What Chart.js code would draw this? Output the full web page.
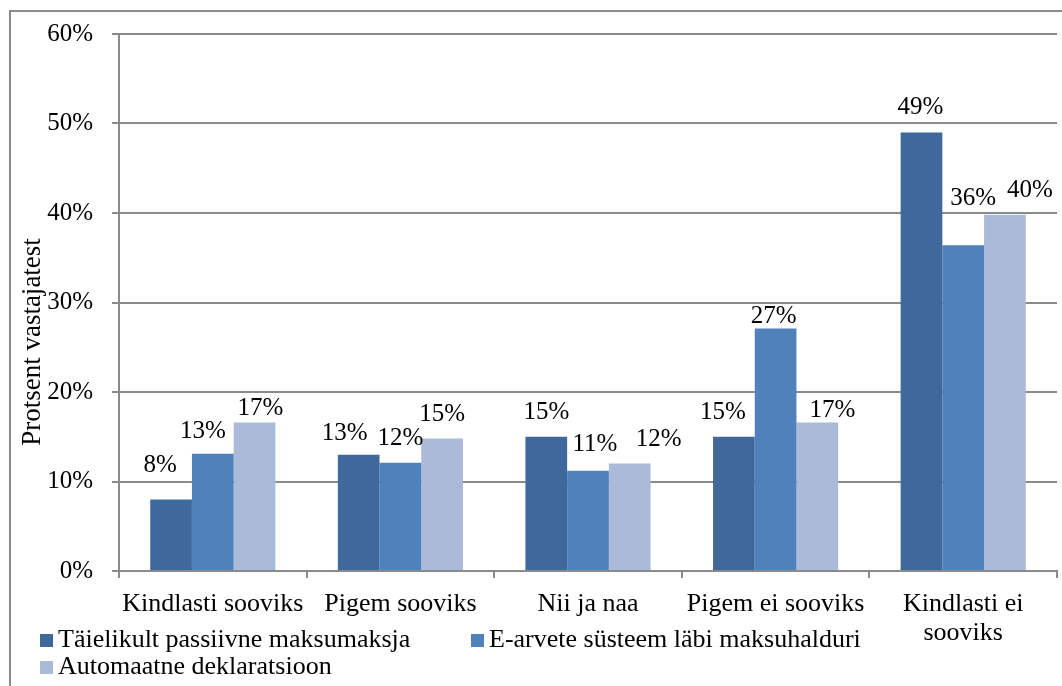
<!DOCTYPE html>
<html>
<head>
<meta charset="utf-8">
<script src="https://cdn.jsdelivr.net/npm/chart.js@4.4.1/dist/chart.umd.min.js"></script>
<style>
  html, body { margin: 0; padding: 0; background: #fff; }
  #wrap { width: 1062px; height: 686px; position: relative; }
</style>
</head>
<body>
<div id="wrap"><canvas id="chart" width="1062" height="686"></canvas></div>
<script>
// Andmed
const categories = ['Kindlasti sooviks', 'Pigem sooviks', 'Nii ja naa', 'Pigem ei sooviks', ['Kindlasti ei', 'sooviks']];
const seriesNames = ['Täielikult passiivne maksumaksja', 'E-arvete süsteem läbi maksuhalduri', 'Automaatne deklaratsioon'];
const passiivne = [8, 13, 15, 15, 49];
const eArved = [13.1, 12.1, 11.2, 27.1, 36.4];
const automaatne = [16.6, 14.8, 12, 16.6, 39.8];
const yTicks = [0, 10, 20, 30, 40, 50, 60];

const colors = ['#40699b', '#4f81bd', '#aabad8'];
const gridColor = '#8a8a8a';
const serif = '"Liberation Serif", "Times New Roman", serif';

// Väärtuste siltide nihked (dx, dy) vastavalt pildile
const labelNudge = [
    [[-11, -9], [-10, 2], [6, 11]],
    [[-14, 3], [0, 0], [0, 0]],
    [[0, 0], [7, -2], [29, 0]],
    [[-11, 0], [-2, 13], [15, 13]],
    [[-1, 0], [10, -22], [25, 0]]
];

// Raam, telje pealkiri, väärtuste sildid ja legend
const decorPlugin = {
    id: 'decor',
    beforeDraw(chart) {
        const ctx = chart.ctx;
        ctx.save();
        ctx.fillStyle = '#fff';
        ctx.fillRect(0, 0, chart.width, chart.height);
        ctx.strokeStyle = gridColor;
        ctx.lineWidth = 2;
        ctx.strokeRect(10, 11, 1200, 1000);
        ctx.restore();
    },
    afterDraw(chart) {
        const ctx = chart.ctx;
        ctx.save();

        // y-telje pealkiri
        ctx.fillStyle = '#000';
        ctx.font = '27px ' + serif;
        ctx.textAlign = 'center';
        ctx.textBaseline = 'alphabetic';
        ctx.translate(40, 342);
        ctx.rotate(-Math.PI / 2);
        ctx.fillText('Protsent vastajatest', 0, 0);
        ctx.setTransform(1, 0, 0, 1, 0, 0);

        // väärtuste sildid
        ctx.font = '25px ' + serif;
        ctx.textAlign = 'center';
        chart.data.datasets.forEach((ds, di) => {
            const meta = chart.getDatasetMeta(di);
            meta.data.forEach((bar, i) => {
                const n = labelNudge[i][di];
                const txt = Math.round(ds.data[i]) + '%';
                ctx.fillText(txt, bar.x + n[0], bar.y - 18 + n[1]);
            });
        });

        // legend
        const items = [
            { x: 40, y: 634 },
            { x: 471, y: 634 },
            { x: 40, y: 661 }
        ];
        ctx.font = '26px ' + serif;
        ctx.textAlign = 'left';
        chart.data.datasets.forEach((ds, di) => {
            const it = items[di];
            ctx.fillStyle = ds.backgroundColor;
            ctx.fillRect(it.x, it.y, 13, 13);
            ctx.fillStyle = '#000';
            ctx.fillText(ds.label, it.x + 18, it.y + 13);
        });
        ctx.restore();
    }
};

new Chart(document.getElementById('chart'), {
    type: 'bar',
    data: {
        labels: categories,
        datasets: [
            { label: seriesNames[0], data: passiivne, backgroundColor: colors[0] },
            { label: seriesNames[1], data: eArved, backgroundColor: colors[1] },
            { label: seriesNames[2], data: automaatne, backgroundColor: colors[2] }
        ]
    },
    options: {
        responsive: false,
        animation: false,
        devicePixelRatio: 1,
        layout: { padding: { top: 34, right: 5, left: 0, bottom: 0 } },
        datasets: {
            bar: { categoryPercentage: 0.667, barPercentage: 1, borderWidth: 0 }
        },
        plugins: {
            legend: { display: false },
            tooltip: { enabled: false }
        },
        scales: {
            x: {
                afterFit(scale) { scale.height = 115; },
                grid: {
                    offset: true,
                    drawOnChartArea: false,
                    tickLength: 7,
                    color: gridColor,
                    lineWidth: 2
                },
                border: { color: gridColor, width: 2 },
                ticks: {
                    color: '#000',
                    font: { family: serif, size: 26, lineHeight: 1.1 },
                    padding: 12,
                    maxRotation: 0,
                    autoSkip: false
                }
            },
            y: {
                min: 0,
                max: 60,
                afterFit(scale) { scale.width = 119; },
                afterBuildTicks(scale) {
                    scale.ticks = yTicks.map(v => ({ value: v }));
                },
                grid: {
                    color: gridColor,
                    lineWidth: 2,
                    tickLength: 7
                },
                border: { color: gridColor, width: 2 },
                ticks: {
                    color: '#000',
                    font: { family: serif, size: 25 },
                    padding: 19,
                    callback: v => v + '%'
                }
            }
        }
    },
    plugins: [decorPlugin]
});
</script>
</body>
</html>
